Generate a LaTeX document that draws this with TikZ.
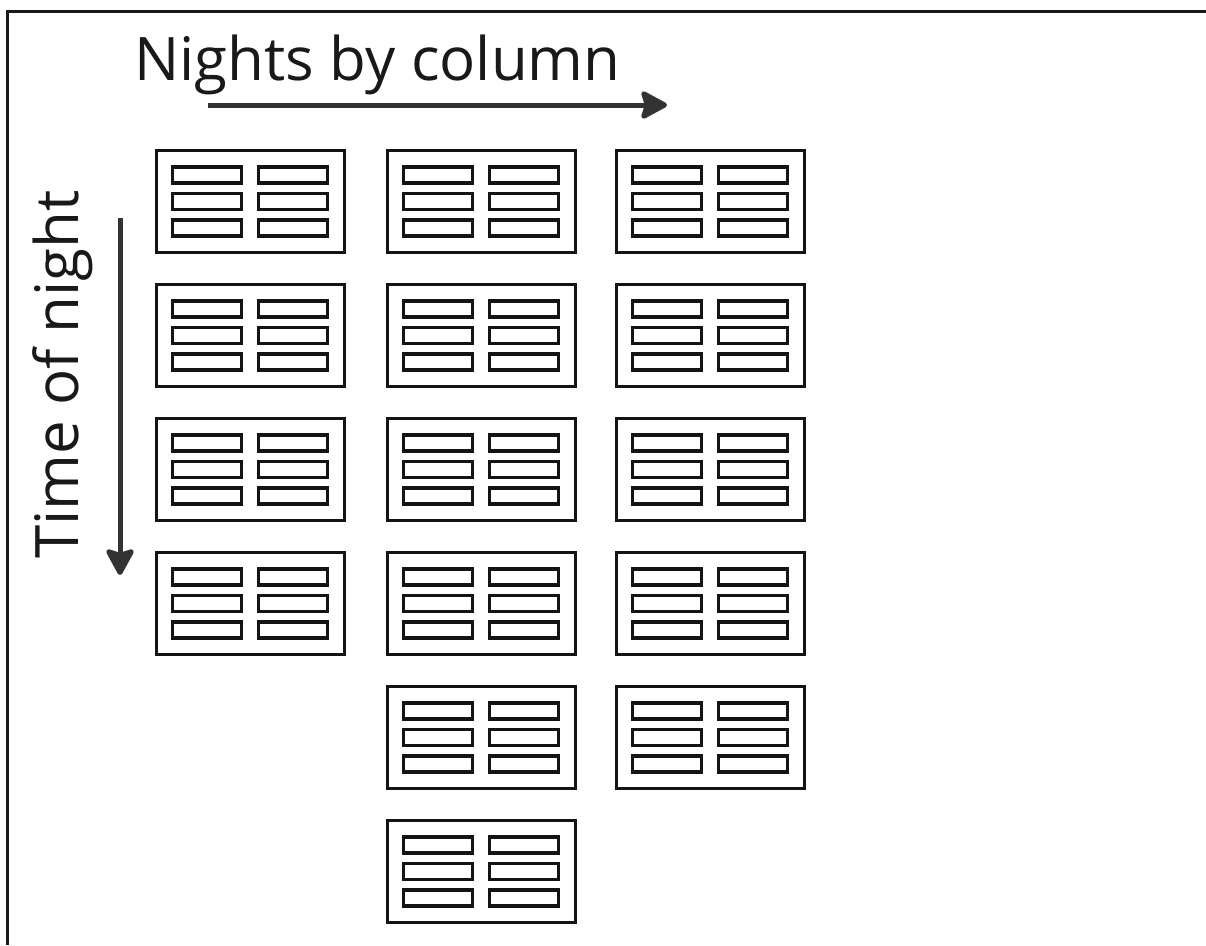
\documentclass[tikz,border=0pt]{standalone}
\usepackage{fontspec}
\setmainfont{Open Sans}
\usetikzlibrary{arrows.meta}

\tikzset{
  card/.style={line width=3pt, black!92},
  slot/.style={line width=3.4pt, black!92},
  flow/.style={line width=5pt, black!80, -{Stealth[length=30pt,width=32pt,inset=5pt,round]}},
  caption/.style={font=\fontsize{60}{72}\selectfont, text=black!90, inner sep=0pt}
}

\begin{document}
\begin{tikzpicture}[x=1pt,y=-1pt]
\useasboundingbox (0,0) rectangle (1206,945);
% frame, cut at the right and bottom
\draw[line width=3pt, black!90] (7,945) -- (7,11) -- (1206,11);

\node[caption, anchor=base west] (nights) at (134,80) {Nights by column};
\node[caption, anchor=base west, rotate=90] (time) at (78,559) {Time of night};

\coordinate (hstart) at (208,105);
\coordinate (hend) at (667,105);
\coordinate (vstart) at (120,218);
\coordinate (vend) at (120,575);
\draw[flow] (hstart) -- (hend);
\draw[flow] (vstart) -- (vend);

% one column of cards per night
\foreach \cx/\rows in {156/4, 387/6, 616/5}{
  \foreach \r in {1,...,\rows}{
    \begin{scope}[shift={(\cx,{150+134*(\r-1)})}]
      \draw[card] (0,0) rectangle (188,102);
      \foreach \sy in {17,43.5,70}{
        \draw[slot] (16.5,\sy) rectangle (85.5,{\sy+16});
        \draw[slot] (102.5,\sy) rectangle (171.5,{\sy+16});
      }
    \end{scope}
  }
}
\end{tikzpicture}
\end{document}
